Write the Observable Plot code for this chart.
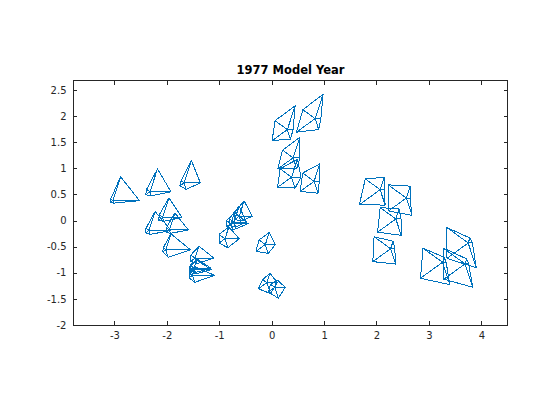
<!DOCTYPE html>
<html>
<head>
<meta charset="utf-8">
<script src="https://cdn.jsdelivr.net/npm/d3@7"></script>
<script src="https://cdn.jsdelivr.net/npm/@observablehq/plot@0.6"></script>
<style>html,body{margin:0;padding:0;background:#fff}svg{display:block}</style>
</head>
<body>
<div id="chart"></div>
<script>
const title = "1977 Model Year";
const xTicks = [-3,-2,-1,0,1,2,3,4];
const yTicks = [-2,-1.5,-1,-0.5,0,0.5,1,1.5,2,2.5];
const xDomain = [-3.79,4.49];
const yDomain = [-2,2.69];
const spokeAngles = [0,72,144,216,288];
const centerX = [-3.04,-2.33,-1.68,-2.09,-2.35,-1.96,-2.03,-1.47,-1.49,-1.50,-1.52,-0.63,-0.73,-0.79,-0.90,-0.13,-0.10,0.05,0.29,0.82,0.40,0.37,0.80,2.06,2.56,2.36,2.26,3.25,3.68,3.74];
const centerY = [0.39,0.56,0.73,0.07,-0.18,-0.17,-0.55,-0.71,-0.90,-0.93,-1.04,0.09,-0.02,-0.05,-0.34,-0.45,-1.18,-1.27,1.75,1.96,1.21,0.84,0.76,0.60,0.44,0.04,-0.53,-0.79,-0.82,-0.42];
const radii0 = [.51,.40,.31,.37,.42,.36,.47,.36,.32,.34,.42,.25,.24,.33,.27,.19,.20,.20,.11,.11,.13,.18,.10,.08,.07,.10,.08,.07,.07,.08];
const radii1 = [.48,.46,.45,.39,.38,.34,.32,.24,.18,.19,.17,.31,.32,.23,.24,.24,.19,.15,.48,.49,.41,.36,.35,.25,.24,.20,.15,.10,.10,.10];
const radii2 = [.05,.08,.07,.08,.07,.07,.06,.10,.09,.09,.07,.12,.11,.10,.14,.15,.10,.10,.29,.29,.25,.27,.27,.35,.43,.37,.39,.46,.52,.50];
const radii3 = [.05,.10,.10,.09,.08,.07,.07,.10,.09,.09,.08,.10,.11,.10,.14,.22,.20,.15,.36,.44,.36,.33,.33,.49,.42,.43,.42,.52,.50,.50];
const radii4 = [.05,.08,.13,.08,.08,.07,.15,.11,.09,.09,.14,.10,.10,.13,.18,.18,.22,.22,.19,.22,.22,.22,.24,.31,.35,.33,.31,.45,.47,.50];
const radii = [radii0,radii1,radii2,radii3,radii4];

const outline = [], spokes = [];
centerX.forEach((cx,g)=>{
  const verts = spokeAngles.map((a,k)=>{
    const t = a*Math.PI/180, r = radii[k][g];
    return {g, x:cx+r*Math.cos(t), y:centerY[g]+r*Math.sin(t)};
  });
  verts.forEach(v=>spokes.push({x1:cx,y1:centerY[g],x2:v.x,y2:v.y}));
  outline.push(...verts, verts[0]);
});
const color = "#0072BD";
const fontFamily = "'DejaVu Sans',sans-serif";
const chart = Plot.plot({
  width:560, height:420,
  marginLeft:73, marginRight:53, marginTop:80, marginBottom:95,
  style:{fontFamily, fontSize:"10px", color:"#262626", background:"#fff"},
  x:{domain:xDomain, label:null},
  y:{domain:yDomain, label:null},
  marks:[
    Plot.axisX({ticks:xTicks, tickSize:-4, tickPadding:10, label:null, tickFormat:d=>String(d), stroke:"#262626", shapeRendering:"crispEdges"}),
    Plot.axisX({anchor:"top", ticks:xTicks, tickSize:-4, tickFormat:()=>"", label:null, stroke:"#262626", shapeRendering:"crispEdges"}),
    Plot.axisY({ticks:yTicks, tickSize:-4, tickPadding:11, label:null, tickFormat:d=>String(d), stroke:"#262626", shapeRendering:"crispEdges"}),
    Plot.axisY({anchor:"right", ticks:yTicks, tickSize:-4, tickFormat:()=>"", label:null, stroke:"#262626", shapeRendering:"crispEdges"}),
    Plot.frame({stroke:"#262626", shapeRendering:"crispEdges"}),
    Plot.link(spokes,{x1:"x1",y1:"y1",x2:"x2",y2:"y2",stroke:color,strokeWidth:1,shapeRendering:"crispEdges"}),
    Plot.line(outline,{x:"x",y:"y",z:"g",stroke:color,strokeWidth:1,curve:"linear",shapeRendering:"crispEdges"}),
    Plot.text([title],{frameAnchor:"top",dy:-15,text:d=>d,fontWeight:"bold",fontSize:11.5,fill:"#000"})
  ]
});
document.getElementById("chart").appendChild(chart);
</script>
</body>
</html>
